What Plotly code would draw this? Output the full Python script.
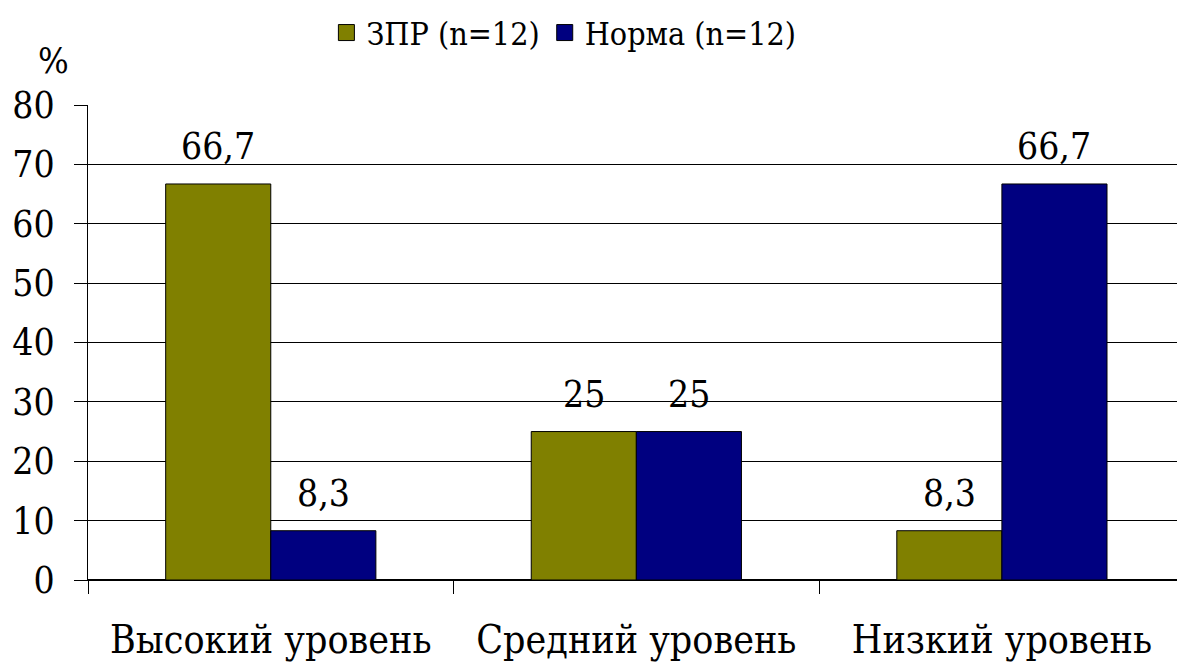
import plotly.graph_objects as go

categories = ["Высокий уровень", "Средний уровень", "Низкий уровень"]
zpr_values = [66.7, 25, 8.3]
norm_values = [8.3, 25, 66.7]
zpr_labels = ["66,7", "25", "8,3"]
norm_labels = ["8,3", "25", "66,7"]
y_ticks = [0, 10, 20, 30, 40, 50, 60, 70, 80]

FONT = "DejaVu Serif Condensed"
ZPR_COLOR = "#808000"
NORM_COLOR = "#000080"

fig = go.Figure()
fig.add_trace(go.Bar(
    name="ЗПР (n=12)", x=categories, y=zpr_values, showlegend=False,
    marker=dict(color=ZPR_COLOR, line=dict(color="black", width=1)),
))
fig.add_trace(go.Bar(
    name="Норма (n=12)", x=categories, y=norm_values, showlegend=False,
    marker=dict(color=NORM_COLOR, line=dict(color="black", width=1)),
))
for name, col in (("ЗПР (n=12)", ZPR_COLOR), ("Норма (n=12)", NORM_COLOR)):
    fig.add_trace(go.Scatter(
        x=[None], y=[None], mode="markers", name=name,
        marker=dict(symbol="square", size=22, color=col, line=dict(color="black", width=1)),
    ))

for vals, labs, shift in ((zpr_values, zpr_labels, -52.5), (norm_values, norm_labels, 52.5)):
    for c, v, t in zip(categories, vals, labs):
        fig.add_annotation(x=c, y=v, text=t, showarrow=False, xshift=shift,
                           yanchor="bottom", yshift=14,
                           font=dict(size=37, family=FONT, color="black"))

fig.update_layout(
    width=1177, height=666,
    margin=dict(l=88, r=0, t=105, b=86, autoexpand=False),
    paper_bgcolor="white", plot_bgcolor="white",
    font=dict(family=FONT, size=37, color="black"),
    barmode="group", bargap=0.425, bargroupgap=0,
    showlegend=True,
    legend=dict(orientation="h", x=0.437, xanchor="center", y=1.21, yanchor="top",
                font=dict(size=32, family=FONT), tracegroupgap=0, itemsizing="trace",
                bgcolor="rgba(0,0,0,0)"),
)
fig.update_xaxes(
    range=[-0.5, 2.479], showline=True, linecolor="black", linewidth=1,
    ticks="outside", tickson="boundaries", ticklen=13, tickcolor="black",
    tickfont=dict(size=39, family=FONT), ticklabelstandoff=25, tickangle=0,
    showgrid=False, automargin=False,
)
fig.update_yaxes(
    range=[0, 80], tickvals=y_ticks, showline=True, linecolor="black", linewidth=1,
    ticks="outside", ticklen=13, tickcolor="black",
    showgrid=True, gridcolor="black", gridwidth=1,
    zeroline=True, zerolinecolor="black",
    tickfont=dict(size=37, family=FONT), ticklabelstandoff=12, automargin=False,
)
fig.add_annotation(text="%", xref="paper", yref="paper", x=-35 / 1089, y=1.0,
                   xanchor="center", yanchor="middle", yshift=45,
                   showarrow=False, font=dict(size=36, family=FONT))

fig.write_html("out.html", config={"displayModeBar": False},
               post_script="document.body.style.margin='0';document.body.style.overflow='hidden';")
